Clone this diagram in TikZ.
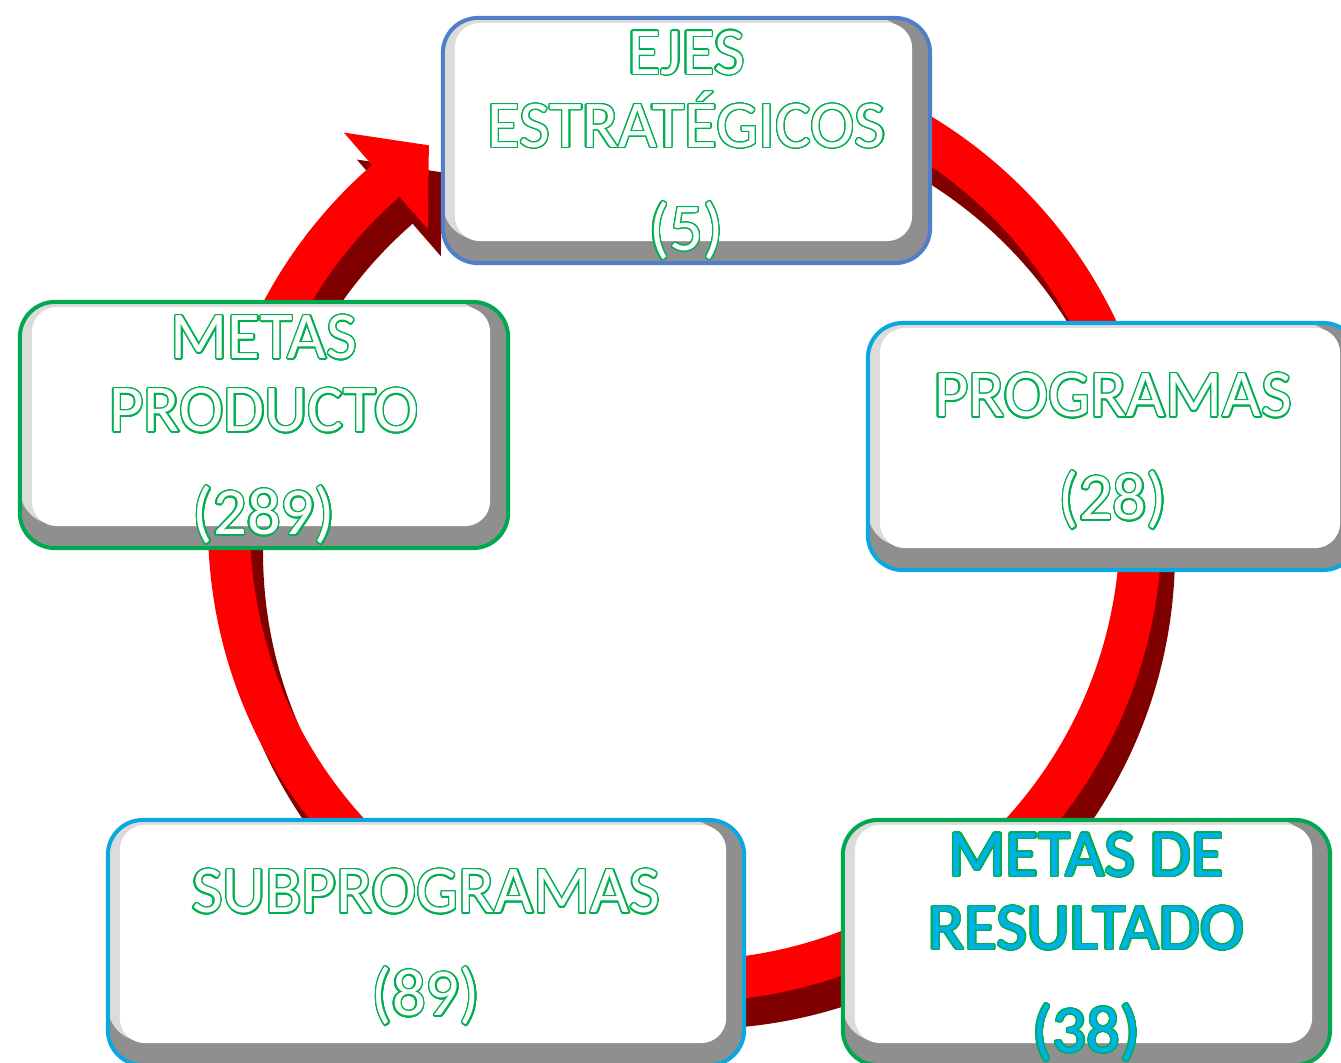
\documentclass[tikz,border=0pt]{standalone}
\usepackage{fontspec}
\setmainfont{Carlito}
\usepackage[copies]{contour}
\usetikzlibrary{calc}
\contourlength{0.4pt}
\contournumber{24}

\definecolor{txtgreen}{HTML}{00B050}
\definecolor{txtcyan}{HTML}{00B0E8}
\definecolor{ringred}{HTML}{FF0000}
\definecolor{ringdark}{HTML}{800000}
\definecolor{edgeblue}{HTML}{4F7FC8}
\definecolor{edgecyan}{HTML}{0AA8E0}
\definecolor{edgegreen}{HTML}{00A850}

\newcommand{\hollow}[1]{\contour{txtgreen}{#1}}

\tikzset{
  card/.style={rounded corners=0.35cm, line width=0.04cm, fill=black!44,
    minimum height=2.45cm, inner sep=0pt,
    path picture={
      \fill[black!14] (path picture bounding box.north west)
        rectangle ([shift={(-0.2cm,0.24cm)}]path picture bounding box.south east);
      \fill[white,rounded corners=0.25cm] ([shift={(0.12cm,-0.05cm)}]path picture bounding box.north west)
        rectangle ([shift={(-0.18cm,0.22cm)}]path picture bounding box.south east);}},
  cardtext/.style={align=center, inner sep=0pt, text=white,
    font=\fontsize{19}{20.8}\selectfont},
}

\begin{document}
\begin{tikzpicture}[x=0.01cm,y=0.01cm]
  \useasboundingbox (0,0) rectangle (1341,-1062);
  \coordinate (c) at (685,-525);

  % ring arrow, shadow first
  \foreach \dx/\dy/\col in {13/-27/ringdark, 0/0/ringred} {
    \draw[\col, line width=0.42cm] ($(c)+(\dx,\dy)+(90:456)$) arc[start angle=90, end angle=-230, radius=456];
    \fill[\col] ($(c)+(\dx,\dy)+(131:520)$) -- ($(c)+(\dx,\dy)+(124:458)$) -- ($(c)+(\dx,\dy)+(131:392)$) -- cycle;
  }

  % boxes
  \node[card, draw=edgeblue, minimum width=4.87cm] (ejes) at (686.5,-140.5) {};
  \node[card, draw=edgecyan, minimum width=4.9cm, minimum height=2.47cm] (prog) at (1113,-446.5) {};
  \node[card, draw=edgegreen, minimum width=4.87cm] (res) at (1086.5,-942.5) {};
  \node[card, draw=edgecyan, minimum width=6.36cm] (sub) at (426,-942.5) {};
  \node[card, draw=edgegreen, minimum width=4.88cm, minimum height=2.46cm] (prod) at (264,-425) {};

  % labels
  \node[cardtext] (ejest) at ([yshift=-0.055cm]ejes.center)
    {\hollow{EJES}\\ \hollow{ESTRATÉGICOS}\\[8.5pt] \hollow{(5)}};
  \node[cardtext] (progt) at ([yshift=-0.055cm]prog.center)
    {\hollow{PROGRAMAS}\\[8.5pt] \hollow{(28)}};
  \node[cardtext, text=txtcyan] (rest) at ([yshift=-0.055cm]res.center)
    {\hollow{METAS DE}\\ \hollow{RESULTADO}\\[8.5pt] \hollow{(38)}};
  \node[cardtext] (subt) at ([yshift=-0.055cm]sub.center)
    {\hollow{SUBPROGRAMAS}\\[8.5pt] \hollow{(89)}};
  \node[cardtext] (prodt) at ([yshift=-0.055cm]prod.center)
    {\hollow{METAS}\\ \hollow{PRODUCTO}\\[8.5pt] \hollow{(289)}};
\end{tikzpicture}
\end{document}
